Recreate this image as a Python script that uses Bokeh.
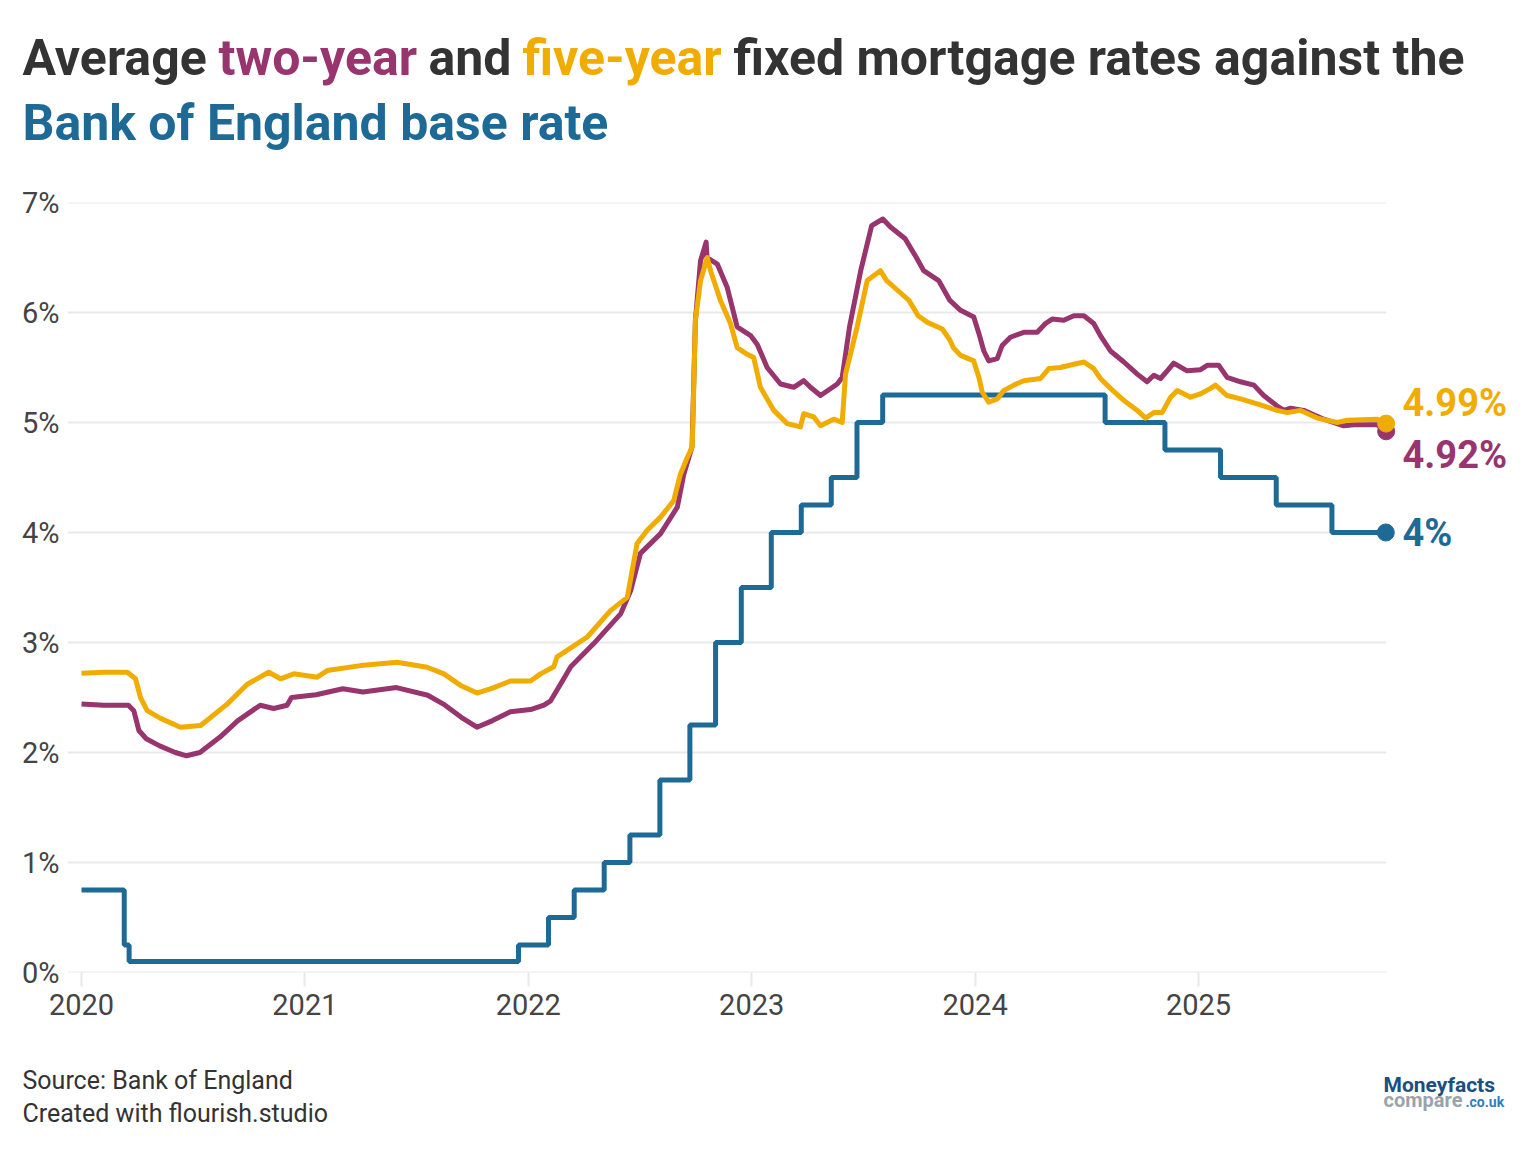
import pandas as pd
from bokeh.plotting import figure
from bokeh.layouts import column, row
from bokeh.models import Range1d, Label, FixedTicker, CustomJSTickFormatter
from bokeh.embed import file_html
from bokeh.resources import INLINE

# ---------------- data ----------------
base_dates = ["2020-01-01", "2020-03-11", "2020-03-19", "2021-12-16", "2022-02-03",
              "2022-03-17", "2022-05-05", "2022-06-16", "2022-08-04", "2022-09-22",
              "2022-11-03", "2022-12-15", "2023-02-02", "2023-03-23", "2023-05-11",
              "2023-06-22", "2023-08-03", "2024-08-01", "2024-11-07", "2025-02-06",
              "2025-05-08", "2025-08-07", "2025-11-03"]
base_rates = [0.75, 0.25, 0.1, 0.25, 0.5, 0.75, 1.0, 1.25, 1.75, 2.25, 3.0, 3.5,
              4.0, 4.25, 4.5, 5.0, 5.25, 5.0, 4.75, 4.5, 4.25, 4.0, 4.0]

# two-year fixed (decimal year, %)
two_year_t = [2020.00, 2020.10, 2020.21, 2020.234, 2020.257, 2020.29, 2020.35, 2020.42,
              2020.47, 2020.53, 2020.62, 2020.70, 2020.80, 2020.86, 2020.92, 2020.94,
              2021.05, 2021.17, 2021.26, 2021.41, 2021.55, 2021.62, 2021.70, 2021.77,
              2021.84, 2021.92, 2022.01, 2022.07, 2022.10, 2022.144, 2022.19, 2022.293,
              2022.413, 2022.458, 2022.502, 2022.592, 2022.667, 2022.696, 2022.733,
              2022.748, 2022.771, 2022.796, 2022.80, 2022.846, 2022.89, 2022.935,
              2022.995, 2023.025, 2023.069, 2023.129, 2023.188, 2023.233, 2023.263,
              2023.308, 2023.383, 2023.405, 2023.438, 2023.488, 2023.537, 2023.587,
              2023.620, 2023.687, 2023.737, 2023.770, 2023.837, 2023.887, 2023.935,
              2023.994, 2024.017, 2024.039, 2024.061, 2024.099, 2024.121, 2024.158,
              2024.218, 2024.278, 2024.315, 2024.345, 2024.397, 2024.442, 2024.487,
              2024.531, 2024.561, 2024.606, 2024.666, 2024.726, 2024.770, 2024.800,
              2024.830, 2024.860, 2024.889, 2024.949, 2025.009, 2025.039, 2025.091,
              2025.128, 2025.188, 2025.248, 2025.292, 2025.352, 2025.382, 2025.412,
              2025.471, 2025.561, 2025.650, 2025.695, 2025.800, 2025.84]
two_year_rate = [2.44, 2.43, 2.43, 2.38, 2.20, 2.125, 2.06, 2.00,
                 1.97, 2.00, 2.14, 2.29, 2.43, 2.40, 2.43, 2.50,
                 2.525, 2.58, 2.55, 2.59, 2.52, 2.44, 2.32, 2.23,
                 2.29, 2.37, 2.39, 2.43, 2.47, 2.62, 2.78, 2.99,
                 3.26, 3.47, 3.81, 3.99, 4.23, 4.53, 4.78,
                 5.93, 6.47, 6.64, 6.50, 6.44, 6.23, 5.87,
                 5.79, 5.71, 5.50, 5.35, 5.32, 5.38, 5.32,
                 5.245, 5.35, 5.41, 5.87, 6.38, 6.79, 6.85,
                 6.78, 6.67, 6.50, 6.38, 6.29, 6.11, 6.02,
                 5.96, 5.81, 5.65, 5.56, 5.58, 5.70, 5.775,
                 5.82, 5.82, 5.90, 5.94, 5.93, 5.97, 5.97,
                 5.90, 5.79, 5.65, 5.55, 5.44, 5.37, 5.43,
                 5.40, 5.47, 5.54, 5.47, 5.48, 5.52, 5.52,
                 5.41, 5.37, 5.34, 5.245, 5.15, 5.11, 5.13,
                 5.11, 5.03, 4.97, 4.98, 4.98, 4.92]

# five-year fixed (decimal year, %)
five_year_t = [2020.00, 2020.10, 2020.205, 2020.242, 2020.264, 2020.294, 2020.354, 2020.443,
               2020.533, 2020.652, 2020.742, 2020.838, 2020.891, 2020.950, 2021.055, 2021.100,
               2021.249, 2021.413, 2021.547, 2021.622, 2021.697, 2021.771, 2021.846, 2021.920,
               2022.010, 2022.055, 2022.114, 2022.129, 2022.264, 2022.368, 2022.443, 2022.487,
               2022.532, 2022.592, 2022.651, 2022.681, 2022.711, 2022.734, 2022.748, 2022.771,
               2022.801, 2022.816, 2022.860, 2022.905, 2022.935, 2022.980, 2023.009, 2023.039,
               2023.099, 2023.159, 2023.218, 2023.233, 2023.278, 2023.308, 2023.367, 2023.405,
               2023.420, 2023.472, 2023.517, 2023.576, 2023.604, 2023.654, 2023.704, 2023.745,
               2023.787, 2023.853, 2023.887, 2023.903, 2023.935, 2023.994, 2024.017, 2024.032,
               2024.061, 2024.099, 2024.128, 2024.173, 2024.218, 2024.293, 2024.330, 2024.382,
               2024.442, 2024.487, 2024.531, 2024.561, 2024.606, 2024.666, 2024.726, 2024.763,
               2024.800, 2024.837, 2024.875, 2024.905, 2024.964, 2025.009, 2025.054, 2025.076,
               2025.128, 2025.188, 2025.263, 2025.352, 2025.397, 2025.457, 2025.532, 2025.621,
               2025.666, 2025.800, 2025.84]
five_year_rate = [2.72, 2.73, 2.73, 2.67, 2.50, 2.38, 2.31, 2.23,
                  2.245, 2.44, 2.62, 2.73, 2.67, 2.715, 2.685, 2.745,
                  2.79, 2.82, 2.775, 2.715, 2.61, 2.54, 2.59, 2.65,
                  2.65, 2.715, 2.78, 2.87, 3.05, 3.29, 3.41, 3.90,
                  4.02, 4.14, 4.29, 4.53, 4.68, 4.78, 5.93, 6.29,
                  6.50, 6.38, 6.11, 5.90, 5.68, 5.62, 5.59, 5.32,
                  5.11, 4.99, 4.96, 5.08, 5.05, 4.97, 5.03, 5.00,
                  5.44, 5.87, 6.29, 6.38, 6.29, 6.20, 6.11, 5.97,
                  5.91, 5.85, 5.75, 5.68, 5.61, 5.56, 5.41, 5.275,
                  5.185, 5.215, 5.29, 5.34, 5.38, 5.40, 5.49, 5.50,
                  5.53, 5.55, 5.49, 5.40, 5.31, 5.20, 5.11, 5.04,
                  5.09, 5.09, 5.23, 5.29, 5.23, 5.26, 5.31, 5.34,
                  5.245, 5.215, 5.17, 5.11, 5.09, 5.11, 5.04, 5.00,
                  5.02, 5.03, 4.99]

year_ticks = [2020, 2021, 2022, 2023, 2024, 2025]
pct_ticks = [0, 1, 2, 3, 4, 5, 6, 7]

# ---------------- styling ----------------
PURPLE = "#98346e"
YELLOW = "#f0ac00"
BLUE = "#1e6a96"
DARK = "#333333"
AXIS_TXT = "#444444"
GRID = "#e9e9e9"
FONT = "Roboto"
W = 1524
TOP_H = 170      # title strip
MAIN_H = 870     # chart strip
FOOT_H = 110     # footer strip
BASE_K = 0.34    # empirical shift of the alphabetic baseline (fraction of font size)


def to_decimal_year(s):
    d = pd.Timestamp(s)
    days = 366 if d.is_leap_year else 365
    return d.year + (d.dayofyear - 1) / days


base_t = [to_decimal_year(s) for s in base_dates]

# page-pixel -> data helpers for the chart strip
X0_PX, X_PER_YEAR = 81.0, 223.4
Y0_PX, Y_PER_PCT = 972.0, 110.0


def dx(px):
    return 2020 + (px - X0_PX) / X_PER_YEAR


def dy(py):
    return (Y0_PX - py) / Y_PER_PCT


def strip_label(fig, text, px, py, size, color, style="normal"):
    fig.add_layout(Label(x=px, y=py - BASE_K * size, text=text, text_font=FONT,
                         text_font_size=f"{size}px", text_color=color,
                         text_font_style=style, text_align="left",
                         text_baseline="alphabetic"))


def chart_label(fig, text, px, py, size, color, style="normal"):
    fig.add_layout(Label(x=dx(px), y=dy(py - BASE_K * size), text=text, text_font=FONT,
                         text_font_size=f"{size}px", text_color=color,
                         text_font_style=style, text_align="left",
                         text_baseline="alphabetic"))


def text_strip(height, top_px):
    f = figure(width=W, height=height, output_backend="svg", toolbar_location=None,
               x_range=Range1d(0, W), y_range=Range1d(top_px + height, top_px),
               x_axis_location=None, y_axis_location=None,
               min_border=0, min_border_left=0, min_border_right=0,
               min_border_top=0, min_border_bottom=0)
    f.grid.visible = False
    f.outline_line_color = None
    f.border_fill_color = "white"
    f.background_fill_color = "white"
    return f


# ---------------- title strip ----------------
t = text_strip(TOP_H, 0)
strip_label(t, "Average", 22, 74, 50, DARK, "bold")
strip_label(t, "two-year", 218, 74, 50, PURPLE, "bold")
strip_label(t, "and", 428, 74, 50, DARK, "bold")
strip_label(t, "five-year", 522, 74, 50, YELLOW, "bold")
strip_label(t, "fixed mortgage rates against the", 733, 74, 50, DARK, "bold")
strip_label(t, "Bank of England base rate", 22, 139, 50, BLUE, "bold")

# ---------------- chart strip ----------------
p = figure(width=W, height=MAIN_H, output_backend="svg", toolbar_location=None,
           x_range=Range1d(dx(67), dx(W)), y_range=Range1d(0, 7),
           min_border_left=67, min_border_right=0, min_border_top=202 - TOP_H,
           min_border_bottom=TOP_H + MAIN_H - 972)
p.outline_line_color = None
p.background_fill_color = "white"
p.border_fill_color = "white"
p.grid.visible = False

# horizontal gridlines, ending where the data ends
end_t = five_year_t[-1]
p.segment(x0=[p.x_range.start] * len(pct_ticks), x1=[end_t] * len(pct_ticks),
          y0=pct_ticks, y1=pct_ticks, line_color=GRID, line_width=2)

p.yaxis.ticker = FixedTicker(ticks=pct_ticks)
p.yaxis.formatter = CustomJSTickFormatter(code="return tick.toFixed(0) + '%';")
p.yaxis.axis_line_color = None
p.yaxis.major_tick_line_color = None
p.yaxis.minor_tick_line_color = None
p.yaxis.major_tick_out = 0
p.yaxis.major_tick_in = 0
p.yaxis.major_label_standoff = 8
p.yaxis.major_label_text_font = FONT
p.yaxis.major_label_text_font_size = "29px"
p.yaxis.major_label_text_color = AXIS_TXT

p.xaxis.ticker = FixedTicker(ticks=year_ticks)
p.xaxis.formatter = CustomJSTickFormatter(code="return tick.toFixed(0);")
p.xaxis.axis_line_color = None
p.xaxis.major_tick_line_color = GRID
p.xaxis.major_tick_line_width = 2
p.xaxis.major_tick_in = 0
p.xaxis.major_tick_out = 14
p.xaxis.minor_tick_line_color = None
p.xaxis.major_label_standoff = 7
p.xaxis.major_label_text_font = FONT
p.xaxis.major_label_text_font_size = "29px"
p.xaxis.major_label_text_color = AXIS_TXT

p.step(base_t, base_rates, mode="after", line_color=BLUE, line_width=5)
p.line(two_year_t, two_year_rate, line_color=PURPLE, line_width=5, line_join="round")
p.line(five_year_t, five_year_rate, line_color=YELLOW, line_width=5, line_join="round")

p.scatter([base_t[-1]], [base_rates[-1]], size=17, color=BLUE)
p.scatter([two_year_t[-1]], [two_year_rate[-1]], size=17, color=PURPLE)
p.scatter([five_year_t[-1]], [five_year_rate[-1]], size=17, color=YELLOW)

chart_label(p, f"{five_year_rate[-1]:.2f}%", 1402, 415, 38, YELLOW, "bold")
chart_label(p, f"{two_year_rate[-1]:.2f}%", 1402, 467, 38, PURPLE, "bold")
chart_label(p, f"{base_rates[-1]:g}%", 1402, 545, 38, BLUE, "bold")

# ---------------- footer strip ----------------
f = text_strip(FOOT_H, TOP_H + MAIN_H)
strip_label(f, "Source: Bank of England", 22, 1088, 25, DARK)
strip_label(f, "Created with flourish.studio", 22, 1121, 25, DARK)
strip_label(f, "Moneyfacts", 1383, 1092, 21, "#1c4f80", "bold")
strip_label(f, "compare", 1383, 1106, 20, "#9aa3ab", "bold")
strip_label(f, ".co.uk", 1465, 1106, 14, "#2d7fc1", "bold")

layout = column(row(t, spacing=0), p, row(f, spacing=0), spacing=0)
open("out.html", "w").write(file_html(layout, INLINE))
